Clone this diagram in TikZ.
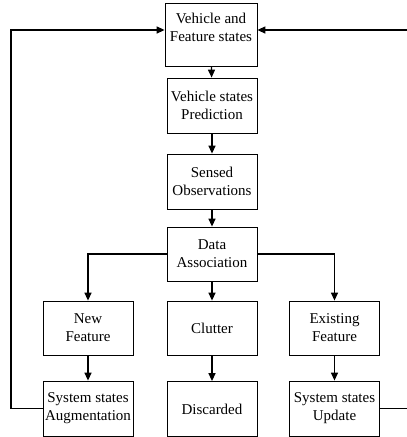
\documentclass[tikz,border=0pt]{standalone}
\usepackage{fontspec}
\setmainfont{Liberation Serif}
\usetikzlibrary{arrows.meta}
\begin{document}
\begin{tikzpicture}[x=1pt,y=-1pt,
  box/.style={draw, line width=0.8pt, minimum width=90pt, minimum height=55pt, inner sep=0pt, align=center, font=\fontsize{15}{18}\selectfont},
  conn/.style={line width=1.3pt, -{Triangle[length=8pt,width=7pt]}},
  line/.style={line width=1.3pt}]
\useasboundingbox (0,0) rectangle (407,437);
\node[box, minimum width=92pt, minimum height=63pt] (top) at (211,34.5) {Vehicle and\\Feature states\\[-4pt]};
\node[box] (pred) at (212,105.5) {Vehicle states\\Prediction};
\node[box] (sens) at (212,181.5) {Sensed\\Observations};
\node[box, minimum height=54pt] (data) at (212,254) {Data\\Association};
\node[box, minimum height=54pt] (new) at (88,328) {New\\Feature};
\node[box, minimum height=54pt] (clut) at (212,328) {Clutter};
\node[box, minimum height=54pt] (exis) at (334.5,328) {Existing\\Feature};
\node[box] (aug) at (88,408.5) {System states\\Augmentation};
\node[box] (disc) at (212,409) {Discarded};
\node[box] (upd) at (334.5,408.5) {System states\\Update};
\draw[conn] (top) -- (pred);
\draw[conn] (pred) -- (sens);
\draw[conn] (sens) -- (data);
\draw[conn] (data) -- (clut);
\draw[conn] (clut) -- (disc);
\draw[conn] (new) -- (aug);
\draw[conn] (exis) -- (upd);
\draw[conn] (data.west) -| (new.north);
\draw[conn] (data.east) -| (exis.north);
\coordinate (lt) at (11,30);
\coordinate (rt) at (410,30);
\draw[conn] (aug.west) -| (lt) -- (lt -| top.west);
\draw[conn] (upd.east) -| (rt) -- (rt -| top.east);
\end{tikzpicture}
\end{document}
